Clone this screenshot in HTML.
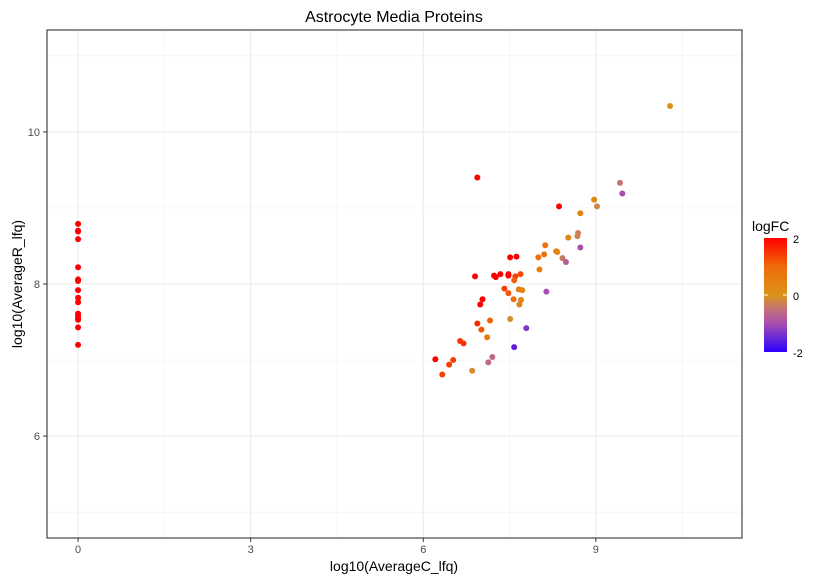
<!DOCTYPE html>
<html><head><meta charset="utf-8"><style>
body{margin:0;background:#fff;font-family:"Liberation Sans",sans-serif}
svg{display:block}
</style></head><body>
<svg id="chart" width="820" height="580">
<defs><linearGradient id="lg" x1="0" y1="1" x2="0" y2="0">
<stop offset="0" stop-color="#2b00ff"/><stop offset="0.25" stop-color="#a94fb0"/><stop offset="0.4" stop-color="#c8786a"/><stop offset="0.5" stop-color="#da9418"/><stop offset="0.75" stop-color="#ef6a08"/><stop offset="1" stop-color="#ff0000"/></linearGradient></defs>
</svg>
<script>
const xs=[0,0,0,0,0,0,0,0,0,0,0,0,0,0,0,0,
6.94,9.42,9.46,8.97,9.02,8.36,8.73,8.69,8.68,8.52,8.73,8.12,8.31,8.33,8.10,8.00,8.42,8.48,7.51,7.62,8.02,6.90,7.23,7.26,7.34,7.48,7.48,7.69,7.60,7.58,7.41,7.48,7.66,7.72,8.14,7.03,6.99,7.57,7.70,7.67,6.94,7.16,7.01,7.11,7.51,7.79,6.64,6.70,7.58,6.21,6.52,6.45,7.20,7.13,6.33,6.85,10.29];
const ys=[8.79,8.70,8.69,8.59,8.22,8.06,8.04,7.92,7.82,7.76,7.61,7.58,7.55,7.53,7.43,7.20,
9.40,9.33,9.19,9.11,9.02,9.02,8.93,8.67,8.63,8.61,8.48,8.51,8.43,8.42,8.39,8.35,8.34,8.29,8.35,8.36,8.19,8.10,8.11,8.09,8.13,8.13,8.11,8.13,8.10,8.05,7.94,7.88,7.93,7.92,7.90,7.80,7.73,7.80,7.79,7.73,7.48,7.52,7.40,7.30,7.54,7.42,7.25,7.22,7.17,7.01,7.00,6.94,7.04,6.97,6.81,6.86,10.34];
const fc=[2,2,2,2,2,2,2,2,2,2,2,2,2,2,2,2,
2,-0.5,-1,0.3,-0.2,2,0.4,-0.3,-0.3,0.3,-1,0.8,0.4,0.4,0.8,0.8,-0.4,-0.8,2,2,0.5,2,2,2,2,2,2,1.3,1.4,1.1,1.4,1.2,0.5,0.4,-1,2,2,0.8,0.4,0.4,1.6,1.1,1.2,0.6,-0.1,-1.3,1.5,1.5,-1.6,2,1.4,1.4,-0.6,-0.6,1.4,-0.1,0.1];
const xTicks=[0,3,6,9], yTicks=[6,8,10];
const L=47,R=742,T=30,B=538,x0=-0.54,x1=11.54,y0=4.66,y1=11.34;
const sx=v=>L+(v-x0)/(x1-x0)*(R-L), sy=v=>B-(v-y0)/(y1-y0)*(B-T);
const stops=[[-2,[43,0,255]],[-1,[169,79,176]],[-0.4,[200,120,106]],[0,[218,148,24]],[1,[239,106,8]],[2,[255,0,0]]];
function col(v){v=Math.max(-2,Math.min(2,v));for(let i=0;i<stops.length-1;i++){const[a,ca]=stops[i],[b,cb]=stops[i+1];if(v<=b){const t=(v-a)/(b-a);return 'rgb('+ca.map((c,k)=>Math.round(c+(cb[k]-c)*t)).join(',')+')';}}}
const svg=document.getElementById('chart'),NS='http://www.w3.org/2000/svg';
function mk(t,a,txt){const e=document.createElementNS(NS,t);for(const k in a)e.setAttribute(k,a[k]);if(txt!=null)e.textContent=txt;svg.appendChild(e);return e;}
for(let v=1.5;v<x1;v+=3){const e=mk('line',{x1:sx(v),x2:sx(v),y1:T,y2:B,stroke:'#f2f2f2','stroke-width':0.6});}
for(let v=5;v<y1;v+=2){const e=mk('line',{x1:L,x2:R,y1:sy(v),y2:sy(v),stroke:'#f2f2f2','stroke-width':0.6});}
xTicks.forEach(v=>{const g=mk('line',{x1:sx(v),x2:sx(v),y1:T,y2:B,stroke:'#ebebeb','stroke-width':1.1});
mk('line',{x1:sx(v),x2:sx(v),y1:B,y2:B+4,stroke:'#333'});
const t=mk('text',{x:sx(v),y:B+15,'text-anchor':'middle','font-size':11,fill:'#4d4d4d'},v);});
yTicks.forEach(v=>{const g=mk('line',{x1:L,x2:R,y1:sy(v),y2:sy(v),stroke:'#ebebeb','stroke-width':1.1});
mk('line',{x1:L-4,x2:L,y1:sy(v),y2:sy(v),stroke:'#333'});
const t=mk('text',{x:L-7,y:sy(v)+4,'text-anchor':'end','font-size':11,fill:'#4d4d4d'},v);});
const fr=mk('rect',{x:L,y:T,width:R-L,height:B-T,fill:'none',stroke:'#333','stroke-width':1.1});
xs.forEach((x,i)=>{const c=mk('circle',{cx:sx(x),cy:sy(ys[i]),r:3,fill:col(fc[i])});});
let e=mk('text',{x:394,y:22,'text-anchor':'middle','font-size':16,fill:'#000'},'Astrocyte Media Proteins');
e=mk('text',{x:394,y:571,'text-anchor':'middle','font-size':14,fill:'#000'},'log10(AverageC_lfq)');
e=mk('text',{x:22,y:284,'text-anchor':'middle','font-size':14,fill:'#000',transform:'rotate(-90 22 284)'},'log10(AverageR_lfq)');
e=mk('text',{x:752,y:231,'font-size':14,fill:'#000'},'logFC');
e=mk('rect',{x:764,y:238,width:23,height:114,fill:'url(#lg)'});
mk('line',{x1:764,x2:768,y1:295,y2:295,stroke:'#fff'});mk('line',{x1:783,x2:787,y1:295,y2:295,stroke:'#fff'});
[['2',243],['0',300],['-2',357]].forEach(([s,y])=>{const t=mk('text',{x:793,y:y,'font-size':11,fill:'#000'},s);});
</script>
</body></html>
